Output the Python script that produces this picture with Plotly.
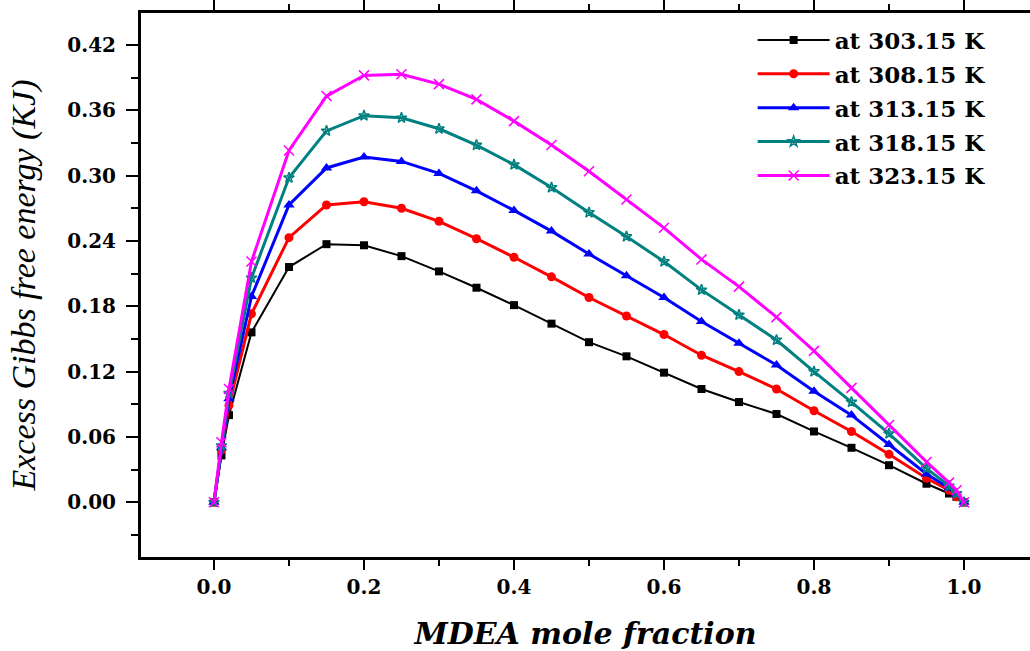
import plotly.graph_objects as go

x = [0, 0.01, 0.02, 0.05, 0.1, 0.15, 0.2, 0.25, 0.3, 0.35, 0.4, 0.45, 0.5,
     0.55, 0.6, 0.65, 0.7, 0.75, 0.8, 0.85, 0.9, 0.95, 0.98, 0.99, 1.0]

g_303 = [0, 0.043, 0.080, 0.156, 0.216, 0.237, 0.236, 0.226, 0.212, 0.197, 0.181,
         0.164, 0.147, 0.134, 0.119, 0.104, 0.092, 0.081, 0.065, 0.050, 0.034,
         0.017, 0.008, 0.005, 0]
g_308 = [0, 0.048, 0.089, 0.173, 0.243, 0.273, 0.276, 0.270, 0.258, 0.242, 0.225,
         0.207, 0.188, 0.171, 0.154, 0.135, 0.120, 0.104, 0.084, 0.065, 0.044,
         0.022, 0.011, 0.005, 0]
g_313 = [0, 0.050, 0.095, 0.189, 0.273, 0.307, 0.317, 0.313, 0.302, 0.286, 0.268,
         0.249, 0.228, 0.208, 0.188, 0.166, 0.146, 0.126, 0.102, 0.080, 0.053,
         0.026, 0.013, 0.007, 0]
g_318 = [0, 0.052, 0.100, 0.206, 0.298, 0.341, 0.355, 0.353, 0.343, 0.328, 0.310,
         0.289, 0.266, 0.244, 0.221, 0.195, 0.172, 0.149, 0.120, 0.092, 0.063,
         0.031, 0.015, 0.008, 0]
g_323 = [0, 0.055, 0.104, 0.221, 0.323, 0.373, 0.392, 0.393, 0.384, 0.370, 0.350,
         0.328, 0.304, 0.278, 0.252, 0.223, 0.198, 0.170, 0.139, 0.105, 0.071,
         0.037, 0.018, 0.011, 0]

names = ["at 303.15 K", "at 308.15 K", "at 313.15 K", "at 318.15 K", "at 323.15 K"]
series = [g_303, g_308, g_313, g_318, g_323]
colors = ["#000000", "#FF0000", "#0000FF", "#008080", "#FF00FF"]
symbols = ["square", "circle", "triangle-up", "star-open", "x-thin"]
msizes = [8, 9, 10, 8, 10]
lwidths = [2, 3, 3, 3, 3]

fig = go.Figure()
for i, (n, s, c, sym, ms, lw) in enumerate(zip(names, series, colors, symbols, msizes, lwidths)):
    mk = dict(symbol=sym, size=ms, color=c)
    if sym in ("star-open", "x-thin"):
        mk["line"] = dict(color=c, width=1.5)
    fig.add_trace(go.Scatter(x=x, y=s, name=n, mode="lines+markers", legendgroup=f"g{i}",
                             line=dict(color=c, width=lw), marker=mk))

wide = "DejaVu Serif, serif"
times = "Liberation Serif, Times New Roman, serif"
fig.update_layout(
    width=1030, height=651,
    margin=dict(l=141, r=0, t=11, b=94),
    plot_bgcolor="white", paper_bgcolor="white",
    font=dict(family=times, color="black"),
    legend=dict(x=0.688, y=0.99, xanchor="left", yanchor="top",
                font=dict(family=wide, size=23, color="black", weight="bold"),
                itemwidth=72, tracegroupgap=1, bgcolor="rgba(0,0,0,0)"),
    showlegend=True,
)
fig.update_xaxes(
    range=[-0.0973, 1.088], tickvals=[0, 0.2, 0.4, 0.6, 0.8, 1.0],
    ticktext=["0.0", "0.2", "0.4", "0.6", "0.8", "1.0"],
    showgrid=False, zeroline=False, showline=True, linecolor="black", linewidth=3,
    mirror="ticks", ticks="outside", ticklen=10, tickwidth=2, tickcolor="black",
    minor=dict(dtick=0.1, tick0=0, ticks="outside", ticklen=6, tickwidth=2, tickcolor="black"),
    tickfont=dict(family=wide, size=20, weight="bold"),
    title=dict(text="<b><i>MDEA mole fraction</i></b>", font=dict(family=wide, size=30), standoff=26),
)
fig.update_yaxes(
    range=[-0.0503, 0.4493], tickvals=[0, 0.06, 0.12, 0.18, 0.24, 0.30, 0.36, 0.42],
    ticktext=["0.00", "0.06", "0.12", "0.18", "0.24", "0.30", "0.36", "0.42"],
    showgrid=False, zeroline=False, showline=True, linecolor="black", linewidth=3,
    ticks="outside", ticklen=12, tickwidth=2, tickcolor="black", ticklabelstandoff=6,
    minor=dict(dtick=0.03, tick0=0, ticks="outside", ticklen=7, tickwidth=2, tickcolor="black"),
    tickfont=dict(family=wide, size=20, weight="bold"),
    title=dict(text="<i>Excess Gibbs free energy (KJ)</i>", font=dict(family=times, size=34), standoff=22),
)

fig.write_html("out.html")
